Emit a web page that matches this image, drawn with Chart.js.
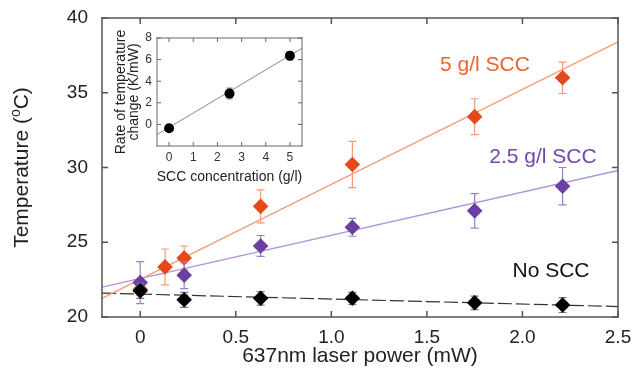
<!DOCTYPE html>
<html>
<head>
<meta charset="utf-8">
<script src="https://cdn.jsdelivr.net/npm/chart.js@4.4.1/dist/chart.umd.min.js"></script>
<style>
html, body { margin: 0; padding: 0; background: #fff; }
#wrap { position: relative; width: 633px; height: 383px; }
#main { position: absolute; left: 0; top: 0; }
#inset { position: absolute; left: 100px; top: 20px; }
</style>
</head>
<body>
<div id="wrap">
  <canvas id="main" width="633" height="383"></canvas>
  <canvas id="inset" width="215" height="170"></canvas>
</div>
<script>
const FONT = "'Liberation Sans', Arial, Helvetica, sans-serif";

// main chart data
const powerNo  = [0, 0.23, 0.63, 1.11, 1.75, 2.21];
const tempNo   = [21.75, 21.15, 21.25, 21.25, 20.95, 20.8];
const errNo    = [0.5, 0.5, 0.45, 0.4, 0.45, 0.5];

const power25  = [0, 0.23, 0.63, 1.11, 1.75, 2.21];
const temp25   = [22.3, 22.8, 24.75, 26.0, 27.1, 28.75];
const err25    = [1.4, 0.9, 0.7, 0.6, 1.15, 1.25];

const power5   = [0, 0.13, 0.23, 0.63, 1.11, 1.75, 2.21];
const temp5    = [21.85, 23.35, 23.95, 27.4, 30.2, 33.4, 36.0];
const err5     = [0.4, 1.2, 0.8, 1.1, 1.55, 1.2, 1.05];

// linear fits, drawn between the axis ends
const fitX     = [-0.2, 2.5];
const fitNo    = [21.6, 20.7];
const fit25    = [22.0, 29.8];
const fit5     = [21.25, 38.4];

const xTicks   = [0, 0.5, 1, 1.5, 2, 2.5];
const yTicks   = [20, 25, 30, 35, 40];

// inset data
const sccConc    = [0, 2.5, 5];
const rate       = [-0.35, 2.85, 6.35];
const rateErr    = [0.3, 0.5, 0.4];
const insetFitX  = [-0.5, 5.5];
const insetFit   = [-0.95, 7.05];
const insetXTicks = [0, 1, 2, 3, 4, 5];
const insetYTicks = [0, 2, 4, 6, 8];

function pts(xs, ys) { return xs.map((x, i) => ({ x: x, y: ys[i] })); }

// error bars drawn just under each marker dataset
const errorBars = {
  id: 'errorBars',
  beforeDatasetDraw(chart, args) {
    const ds = chart.data.datasets[args.index];
    if (!ds.errors) return;
    const ctx = chart.ctx, xs = chart.scales.x, ys = chart.scales.y;
    ctx.save();
    ctx.strokeStyle = ds.errorColor;
    ctx.lineWidth = 1.2;
    ds.data.forEach((p, i) => {
      const e = ds.errors[i];
      const px = xs.getPixelForValue(p.x);
      const t = ys.getPixelForValue(p.y + e), b = ys.getPixelForValue(p.y - e);
      const c = ds.capWidth;
      ctx.beginPath();
      ctx.moveTo(px, t); ctx.lineTo(px, b);
      ctx.moveTo(px - c, t); ctx.lineTo(px + c, t);
      ctx.moveTo(px - c, b); ctx.lineTo(px + c, b);
      ctx.stroke();
    });
    ctx.restore();
  }
};

// box round the plot with inward ticks on all sides (filled strips)
function drawFrame(chart, color, w, L) {
  const ctx = chart.ctx, a = chart.chartArea;
  const xs = chart.scales.x, ys = chart.scales.y;
  const l = Math.round(a.left), r = Math.round(a.right);
  const t = Math.round(a.top), b = Math.round(a.bottom);
  ctx.save();
  ctx.fillStyle = color;
  ctx.fillRect(l - w / 2, t - w / 2, r - l + w, w);
  ctx.fillRect(l - w / 2, b - w / 2, r - l + w, w);
  ctx.fillRect(l - w / 2, t - w / 2, w, b - t + w);
  ctx.fillRect(r - w / 2, t - w / 2, w, b - t + w);
  xs.ticks.forEach(tk => {
    const px = xs.getPixelForValue(tk.value);
    ctx.fillRect(px - w / 2, b - L, w, L);
    ctx.fillRect(px - w / 2, t, w, L);
  });
  ys.ticks.forEach(tk => {
    const py = ys.getPixelForValue(tk.value);
    ctx.fillRect(l, py - w / 2, L, w);
    ctx.fillRect(r - L, py - w / 2, L, w);
  });
  ctx.restore();
}

const mainText = {
  id: 'mainText',
  afterDraw(chart) {
    drawFrame(chart, '#555', 1.5, 6);
    const ctx = chart.ctx, a = chart.chartArea;
    ctx.save();
    ctx.textBaseline = 'middle';
    ctx.textAlign = 'center';
    ctx.fillStyle = '#222';
    ctx.font = '21px ' + FONT;
    ctx.fillText('637nm laser power (mW)', (a.left + a.right) / 2, 356);

    // y title with superscript o
    ctx.translate(22, (a.top + a.bottom) / 2);
    ctx.rotate(-Math.PI / 2);
    ctx.textAlign = 'left';
    const p1 = 'Temperature (', p2 = 'o', p3 = 'C)';
    ctx.font = '21px ' + FONT;
    const w1 = ctx.measureText(p1).width, w3 = ctx.measureText(p3).width;
    ctx.font = '14px ' + FONT;
    const w2 = ctx.measureText(p2).width;
    let x = -(w1 + w2 + w3) / 2;
    ctx.font = '21px ' + FONT;
    ctx.fillText(p1, x, 0); x += w1;
    ctx.font = '14px ' + FONT;
    ctx.fillText(p2, x, -6); x += w2;
    ctx.font = '21px ' + FONT;
    ctx.fillText(p3, x, 0);
    ctx.restore();

    ctx.save();
    ctx.textAlign = 'center';
    ctx.textBaseline = 'middle';
    ctx.font = '21px ' + FONT;
    ctx.fillStyle = '#EE6230';
    ctx.fillText('5 g/l SCC', 485, 65);
    ctx.fillStyle = '#7447AC';
    ctx.fillText('2.5 g/l SCC', 543, 157);
    ctx.fillStyle = '#111';
    ctx.fillText('No SCC', 551, 271);
    ctx.restore();
  }
};

function fixX(h) {
  return s => { s.height = h; s.paddingLeft = 0; s.paddingRight = 0; };
}
function fixY(w) {
  return s => { s.width = w; s.paddingTop = 0; s.paddingBottom = 0; };
}

new Chart(document.getElementById('main'), {
  type: 'scatter',
  data: {
    datasets: [
      { type: 'line', data: pts(fitX, fit5), borderColor: '#F7A27C', borderWidth: 1.3, pointRadius: 0, order: 10 },
      { type: 'line', data: pts(fitX, fit25), borderColor: '#B192D9', borderWidth: 1.3, pointRadius: 0, order: 10 },
      { type: 'line', data: pts(fitX, fitNo), borderColor: '#333', borderWidth: 1.2, borderDash: [14, 4], pointRadius: 0, order: 10 },
      { data: pts(power5, temp5), errors: err5, errorColor: '#F29A78', capWidth: 4,
        pointStyle: 'rectRot', pointRadius: 7.8, backgroundColor: '#E4481C', borderWidth: 0, order: 3 },
      { data: pts(power25, temp25), errors: err25, errorColor: '#9B7EC6', capWidth: 4,
        pointStyle: 'rectRot', pointRadius: 7.8, backgroundColor: '#6A3FA2', borderWidth: 0, order: 2 },
      { data: pts(powerNo, tempNo), errors: errNo, errorColor: '#777', capWidth: 4,
        pointStyle: 'rectRot', pointRadius: 7.8, backgroundColor: '#000', borderWidth: 0, order: 1 }
    ]
  },
  options: {
    responsive: false,
    animation: false,
    events: [],
    layout: { padding: { top: 18, right: 15, left: 0, bottom: 0 } },
    plugins: { legend: { display: false }, tooltip: { enabled: false } },
    scales: {
      x: {
        type: 'linear', min: -0.2, max: 2.5,
        afterBuildTicks: s => { s.ticks = xTicks.map(v => ({ value: v })); },
        afterFit: fixX(66),
        grid: { display: false, drawTicks: false },
        border: { display: false },
        ticks: { padding: 9, color: '#222', font: { size: 19, family: FONT } }
      },
      y: {
        type: 'linear', min: 20, max: 40,
        afterBuildTicks: s => { s.ticks = yTicks.map(v => ({ value: v })); },
        afterFit: fixY(102),
        grid: { display: false, drawTicks: false },
        border: { display: false },
        ticks: { padding: 14, color: '#222', font: { size: 19, family: FONT } }
      }
    }
  },
  plugins: [errorBars, mainText]
});

const insetText = {
  id: 'insetText',
  afterDraw(chart) {
    drawFrame(chart, '#666', 1, 4);
    const ctx = chart.ctx, a = chart.chartArea;
    ctx.save();
    ctx.fillStyle = '#222';
    ctx.textAlign = 'center';
    ctx.textBaseline = 'middle';
    ctx.font = '14px ' + FONT;
    ctx.fillText('SCC concentration (g/l)', (a.left + a.right) / 2, 157);
    ctx.translate(21, (a.top + a.bottom) / 2);
    ctx.rotate(-Math.PI / 2);
    ctx.fillText('Rate of temperature', 0, 0);
    ctx.fillText('change (K/mW)', 0, 13);
    ctx.restore();
  }
};

new Chart(document.getElementById('inset'), {
  type: 'scatter',
  data: {
    datasets: [
      { type: 'line', data: pts(insetFitX, insetFit), borderColor: '#888', borderWidth: 1, pointRadius: 0, order: 10 },
      { data: pts(sccConc, rate), errors: rateErr, errorColor: '#888', capWidth: 3,
        pointStyle: 'circle', pointRadius: 5, backgroundColor: '#000', borderWidth: 0, order: 1 }
    ]
  },
  options: {
    responsive: false,
    animation: false,
    events: [],
    layout: { padding: { top: 18, right: 13, left: 0, bottom: 0 } },
    plugins: { legend: { display: false }, tooltip: { enabled: false } },
    scales: {
      x: {
        type: 'linear', min: -0.5, max: 5.5,
        afterBuildTicks: s => { s.ticks = insetXTicks.map(v => ({ value: v })); },
        afterFit: fixX(44),
        grid: { display: false, drawTicks: false },
        border: { display: false },
        ticks: { padding: 4, color: '#333', font: { size: 12, family: FONT } }
      },
      y: {
        type: 'linear', min: -2, max: 8,
        afterBuildTicks: s => { s.ticks = insetYTicks.map(v => ({ value: v })); },
        afterFit: fixY(57),
        grid: { display: false, drawTicks: false },
        border: { display: false },
        ticks: { padding: 5, color: '#333', font: { size: 12, family: FONT } }
      }
    }
  },
  plugins: [errorBars, insetText]
});
</script>
</body>
</html>
